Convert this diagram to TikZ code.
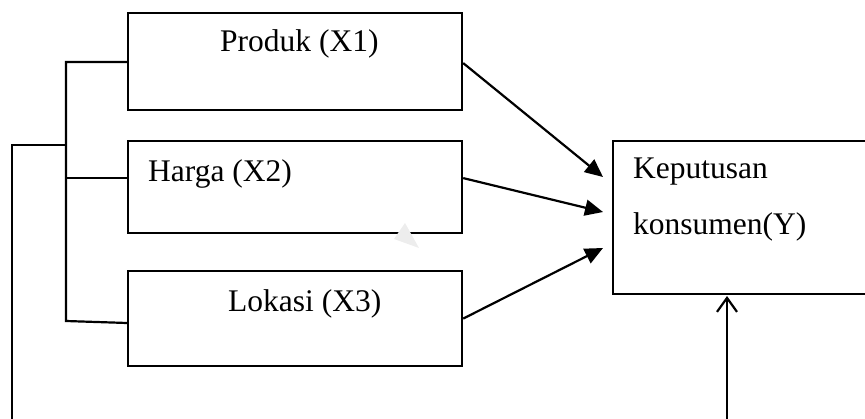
\documentclass[tikz,border=0pt]{standalone}
\usepackage{fontspec}
\setmainfont{Liberation Serif}
\usetikzlibrary{arrows.meta}
\begin{document}
\begin{tikzpicture}[x=1pt,y=-1pt,
  box/.style={draw=black,line width=2.2pt,rectangle,inner sep=0pt,anchor=north west},
  lbl/.style={inner sep=0pt,anchor=base west,font=\fontsize{31.5}{36}\selectfont},
  conn/.style={draw=black,line width=2.2pt},
  filledarrow/.style={conn,-{Triangle[length=18pt,width=16pt]}},
  openarrow/.style={conn,-{Straight Barb[length=14pt,width=20pt,line width=2.2pt]}}]
\useasboundingbox (0,0) rectangle (865,419);
\clip (0,0) rectangle (865,419);
% boxes
\node[box,minimum width=334pt,minimum height=97pt] (b1) at (127,12) {};
\node[box,minimum width=334pt,minimum height=92pt] (b2) at (127,140) {};
\node[box,minimum width=334pt,minimum height=95pt] (b3) at (127,270) {};
\node[box,minimum width=300pt,minimum height=153pt] (y) at (612,140) {};
% labels
\node[lbl] (t1) at (220,52) {Produk (X1)};
\node[lbl] (t2) at (148,182) {Harga (X2)};
\node[lbl] (t3) at (228,312) {Lokasi (X3)};
\node[lbl] (t4) at (633,179) {Keputusan};
\node[lbl] (t5) at (633,235) {konsumen(Y)};
% faint mark
\fill[gray!14] (405,223) -- (394,239) -- (419,248) -- cycle;
% bracket
\coordinate (jt) at (66,62);
\coordinate (jm) at (66,178);
\coordinate (jb) at (66,321);
\coordinate (jl) at (66,145);
\coordinate (lt) at (12,145);
\coordinate (lb) at (12,425);
\draw[conn] (b1.west |- jt) -- (jt) -- (jb) -- ([yshift=-2pt]b3.west |- jb);
\draw[conn] (jm) -- (b2.west |- jm);
\draw[conn] (lb) -- (lt) -- (jl);
% arrows
\coordinate (p1) at (603,177);
\coordinate (p2) at (603,212);
\coordinate (p3) at (603,248);
\draw[filledarrow] ([yshift=-1.5pt]b1.east) -- (p1);
\draw[filledarrow] ([yshift=9pt]b2.east) -- (p2);
\draw[filledarrow] (b3.east) -- (p3);
\coordinate (ub) at (727,425);
\coordinate (ut) at (727,296);
\draw[openarrow] (ub) -- (ut);
\end{tikzpicture}
\end{document}
